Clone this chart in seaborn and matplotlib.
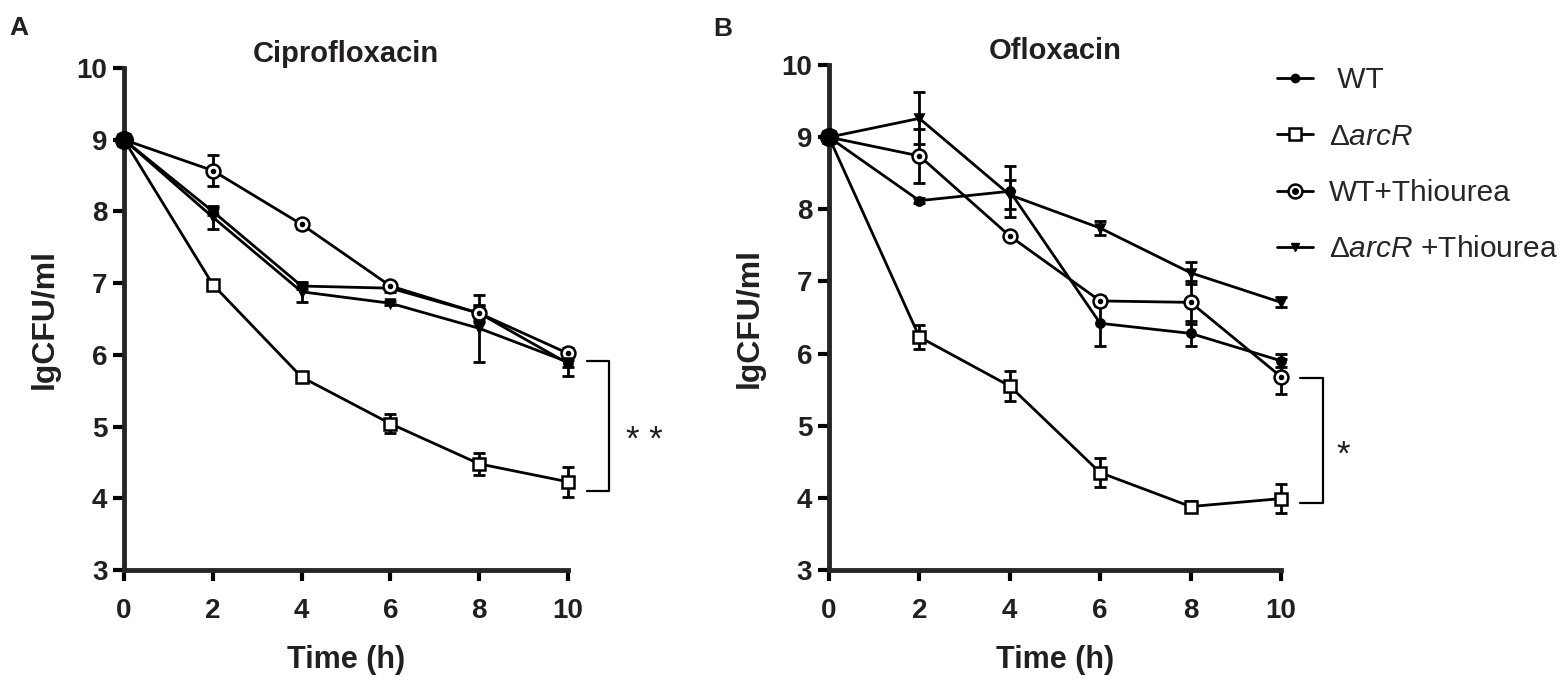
import pandas as pd
import matplotlib.pyplot as plt
import seaborn as sns
from matplotlib.lines import Line2D
from matplotlib.legend_handler import HandlerTuple

# ==============================
# Data
# ==============================
time_h = [0, 2, 4, 6, 8, 10]
groups = ["WT", "arcR", "WT+Thiourea", "arcR+Thiourea"]

# Ciprofloxacin
cip_wt = [9.0, 8.00, 6.96, 6.93, 6.58, 5.88]
cip_wt_err = [0, 0.05, 0.04, 0.05, 0.10, 0.05]
cip_arcr = [9.0, 6.98, 5.69, 5.04, 4.48, 4.23]
cip_arcr_err = [0, 0.03, 0.05, 0.13, 0.15, 0.21]
cip_wt_thio = [9.0, 8.57, 7.82, 6.96, 6.58, 6.02]
cip_wt_thio_err = [0, 0.22, 0.06, 0.04, 0.12, 0.03]
cip_arcr_thio = [9.0, 7.92, 6.88, 6.72, 6.37, 5.90]
cip_arcr_thio_err = [0, 0.16, 0.14, 0.03, 0.47, 0.20]

# Ofloxacin
ofl_wt = [9.0, 8.12, 8.25, 6.42, 6.28, 5.90]
ofl_wt_err = [0, 0.03, 0.35, 0.32, 0.17, 0.09]
ofl_arcr = [9.0, 6.23, 5.55, 4.35, 3.88, 3.99]
ofl_arcr_err = [0, 0.17, 0.21, 0.20, 0.08, 0.20]
ofl_wt_thio = [9.0, 8.74, 7.63, 6.73, 6.71, 5.68]
ofl_wt_thio_err = [0, 0.38, 0.03, 0.07, 0.30, 0.24]
ofl_arcr_thio = [9.0, 9.26, 8.20, 7.74, 7.12, 6.71]
ofl_arcr_thio_err = [0, 0.36, 0.20, 0.10, 0.15, 0.07]

# significance brackets (top, bottom) in lgCFU/ml
cip_bracket = [5.92, 4.10]
ofl_bracket = [5.66, 3.93]

# ==============================
# Long table
# ==============================
rows = []
panels = {
    "Ciprofloxacin": [(cip_wt, cip_wt_err), (cip_arcr, cip_arcr_err),
                      (cip_wt_thio, cip_wt_thio_err), (cip_arcr_thio, cip_arcr_thio_err)],
    "Ofloxacin": [(ofl_wt, ofl_wt_err), (ofl_arcr, ofl_arcr_err),
                  (ofl_wt_thio, ofl_wt_thio_err), (ofl_arcr_thio, ofl_arcr_thio_err)],
}
for drug, series in panels.items():
    for g, (vals, errs) in zip(groups, series):
        for t, v, e in zip(time_h, vals, errs):
            rows.append([drug, g, t, v, e])
df = pd.DataFrame(rows, columns=["drug", "group", "time", "value", "err"])

# ==============================
# Style
# ==============================
sns.set_style("ticks")
plt.rcParams["font.family"] = ["Liberation Sans", "DejaVu Sans"]
plt.rcParams["font.weight"] = "bold"
plt.rcParams["axes.labelweight"] = "bold"
plt.rcParams["axes.titleweight"] = "bold"
plt.rcParams["mathtext.fontset"] = "custom"
plt.rcParams["mathtext.rm"] = "Liberation Sans:normal"
plt.rcParams["mathtext.it"] = "Liberation Sans:italic:normal"
plt.rcParams["mathtext.bf"] = "Liberation Sans:bold"

ink = "#231f20"
style = {
    "WT": dict(marker="o", markersize=6, markerfacecolor="black"),
    "arcR": dict(marker="s", markersize=8, markerfacecolor="white"),
    "WT+Thiourea": dict(marker="o", markersize=10, markerfacecolor="white"),
    "arcR+Thiourea": dict(marker="v", markersize=6, markerfacecolor="black"),
}

fig = plt.figure(figsize=(15.62, 6.83), dpi=100)
ax_a = fig.add_axes([0.0794, 0.1654, 0.2843, 0.735])
ax_b = fig.add_axes([0.5307, 0.1654, 0.2894, 0.7394])

for ax, drug, bracket, stars in [(ax_a, "Ciprofloxacin", cip_bracket, "* *"),
                                 (ax_b, "Ofloxacin", ofl_bracket, "*")]:
    d = df[df["drug"] == drug]
    for g in groups:
        sub = d[d["group"] == g]
        ax.errorbar(sub["time"], sub["value"], yerr=sub["err"], fmt="none",
                    ecolor="black", elinewidth=2, capsize=4, capthick=2,
                    zorder=2, clip_on=False)
        sns.lineplot(data=sub, x="time", y="value", color="black", lw=2,
                     markeredgecolor="black", markeredgewidth=1.8,
                     errorbar=None, ax=ax, legend=False, zorder=3,
                     clip_on=False, **style[g])
        if g == "WT+Thiourea":
            sns.scatterplot(data=sub, x="time", y="value", s=16, color="black",
                            linewidth=0, ax=ax, legend=False, zorder=4, clip_on=False)
    start = d[d["time"] == time_h[0]]
    sns.scatterplot(x=start["time"].iloc[:1], y=start["value"].iloc[:1], s=190,
                    color="black", linewidth=0, ax=ax, legend=False, zorder=5,
                    clip_on=False)

    # significance bracket
    bx0, bx1 = 10.42, 10.92
    ax.plot([bx0, bx1, bx1, bx0], [bracket[0], bracket[0], bracket[1], bracket[1]],
            color="black", lw=1.6, clip_on=False)
    ax.text(bx1 + (0.8 if stars == "* *" else 0.45), (bracket[0] + bracket[1]) / 2 - 0.2,
            stars, fontsize=25, fontweight="normal", color=ink,
            ha="center", va="center")

    ax.set_xlim(0, 10)
    ax.set_ylim(3, 10)
    ax.set_xticks(range(0, 11, 2))
    ax.set_yticks(range(3, 11))
    for s in ["top", "right"]:
        ax.spines[s].set_visible(False)
    for s in ["left", "bottom"]:
        ax.spines[s].set_linewidth(3.5)
    ax.tick_params(width=3, length=8, labelsize=20, colors="black", labelcolor=ink)
    ax.tick_params(axis="x", pad=12)
    ax.tick_params(axis="y", pad=4)
    ax.set_title(drug, fontsize=21, pad=4, color=ink)
    ax.set_xlabel("Time (h)", fontsize=22, labelpad=15, color=ink)
    ax.set_ylabel("lgCFU/ml", fontsize=23, labelpad=12, color=ink)

# ==============================
# Legend
# ==============================
handles = [
    Line2D([], [], color="black", lw=2, marker="o", ms=6),
    Line2D([], [], color="black", lw=2, marker="s", ms=8, mfc="white", mew=1.8),
    (Line2D([], [], color="black", lw=2, marker="o", ms=10, mfc="white", mew=1.8),
     Line2D([], [], ls="none", marker="o", ms=4, color="black")),
    Line2D([], [], color="black", lw=2, marker="v", ms=6),
]
labels = [" WT", r"$\Delta\mathit{arcR}$", "WT+Thiourea", r"$\Delta\mathit{arcR}$ +Thiourea"]
ax_b.legend(handles, labels, handler_map={tuple: HandlerTuple(ndivide=1, pad=0)},
            loc="upper left", bbox_to_anchor=(0.8175, 0.903),
            bbox_transform=fig.transFigure, frameon=False,
            prop={"size": 21.5, "weight": "normal"},
            handlelength=1.2, handletextpad=0.55, labelspacing=0.95,
            borderpad=0, borderaxespad=0)

fig.text(0.0122, 0.959, "A", fontsize=19, fontweight="bold", ha="center", va="center", color=ink)
fig.text(0.463, 0.957, "B", fontsize=19, fontweight="bold", ha="center", va="center", color=ink)

fig.savefig("out.png", dpi=100)
